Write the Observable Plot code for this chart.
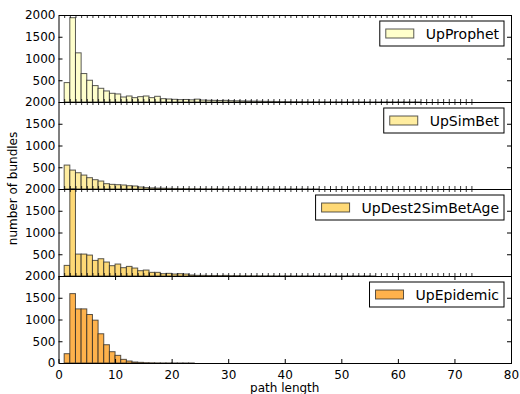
<!DOCTYPE html>
<html><head><meta charset="utf-8">
<script src="https://cdn.jsdelivr.net/npm/d3@7"></script>
<script src="https://cdn.jsdelivr.net/npm/@observablehq/plot@0.6"></script>
<style>
body{margin:0;background:#fff;font-family:"DejaVu Sans",sans-serif}
#chart{width:520px;height:394px}
</style>
</head><body><div id="chart"></div>
<script>
const seriesNames = ["UpProphet", "UpSimBet", "UpDest2SimBetAge", "UpEpidemic"];
const seriesColors = ["#ffffcc", "#ffeda0", "#fed976", "#feb24c"];
const binStart = 1; // left edge of the first unit-width bin
// counts per unit bin [1,2), [2,3), ... [72,73)
const upProphet = [
  446,1938,1130,654,500,377,315,254,200,185,
  115,138,100,123,138,100,131,77,69,62,
  54,58,50,66,45,40,38,35,38,30,
  28,25,22,20,18,15,14,12,10,9,
  8,7,6,5,5,4,4,3,3,2,
  2,2,2,1,1,1,1,1,1,1,
  1,1,1,0,0,0,0,0,0,0,0,0];
const upSimBet = [
  550,435,374,320,260,214,183,122,107,99,
  92,76,69,46,31,25,20,18,15,12,
  10,8,7,6,5,4,4,3,3,2,
  2,2,2,1,1,1,1,1,1,1,
  1,1,1,1,1,0,0,0,0,0,
  0,0,0,0,0,0,0,0,0,0,
  0,0,0,0,0,0,0,0,0,0,0,0];
const upDest2SimBetAge = [
  244,2000,504,504,481,359,397,321,237,275,
  191,221,183,122,137,84,84,53,61,46,
  53,46,23,15,15,12,12,10,14,9,
  8,7,6,5,5,4,4,3,3,3,
  2,2,2,2,1,1,1,1,1,1,
  1,1,1,1,1,0,0,0,0,0,
  0,0,0,0,0,0,0,0,0,0,0,0];
const upEpidemic = [
  214,1595,1244,1244,1115,985,672,420,260,176,
  84,46,23,15,8,5,3,2,2,1,
  1,1,1,0,0,0,0,0,0,0,
  0,0,0,0,0,0,0,0,0,0,
  0,0,0,0,0,0,0,0,0,0,
  0,0,0,0,0,0,0,0,0,0,
  0,0,0,0,0,0,0,0,0,0,0,0];
const xTicks = [0, 10, 20, 30, 40, 50, 60, 70, 80];
const yTicks = [500, 1000, 1500, 2000];
const yInnerTicks = [500, 1000, 1500];
const xLabel = "path length";
const yLabel = "number of bundles";

const allSeries = [upProphet, upSimBet, upDest2SimBetAge, upEpidemic];
const rows = [];
seriesNames.forEach((s, si) => {
  allSeries[si].forEach((v, i) => rows.push({series: s, x1: binStart + i, x2: binStart + i + 1, count: v}));
});
const nEdges = upProphet.length + 1;
const edges = d3.range(binStart, binStart + nEdges);
const minorTicks = seriesNames.slice(0, 3).flatMap(s => edges.map(e => ({series: s, x: e})));
const majorTicks = xTicks.map(x => ({series: seriesNames[3], x}));

const W = 520, H = 394;
const fmt = d => String(d);
const plot = Plot.plot({
  width: W, height: H,
  marginLeft: 58.5, marginRight: 9, marginTop: 13, marginBottom: 30,
  style: {fontFamily: "DejaVu Sans", fontSize: "12px", color: "black", background: "white"},
  x: {domain: [0, 80]},
  y: {domain: [0, 2000]},
  fy: {domain: seriesNames, padding: 0, axis: null},
  color: {domain: seriesNames, range: seriesColors},
  marks: [
    Plot.rectY(rows, {x1: "x1", x2: "x2", y: "count", fy: "series", fill: "series", stroke: "#222", strokeOpacity: 0.75, strokeWidth: 1}),
    // inward minor ticks at bin edges (top and bottom of upper panels)
    Plot.ruleX(minorTicks, {x: "x", y1: 0, y2: 0, fy: "series", insetBottom: 3, stroke: "black", strokeWidth: 0.8}),
    Plot.ruleX(minorTicks, {x: "x", y1: 2000, y2: 2000, fy: "series", insetTop: 3, stroke: "black", strokeWidth: 0.8}),
    // inward major ticks for the bottom panel
    Plot.ruleX(majorTicks, {x: "x", y1: 0, y2: 0, fy: "series", insetBottom: 4, stroke: "black"}),
    Plot.ruleX(majorTicks, {x: "x", y1: 2000, y2: 2000, fy: "series", insetTop: 4, stroke: "black"}),
    // inward y ticks on left and right
    Plot.ruleY(yInnerTicks, {y: d => d, x1: 0, x2: 0, insetLeft: 4, stroke: "black"}),
    Plot.ruleY(yInnerTicks, {y: d => d, x1: 80, x2: 80, insetRight: 4, stroke: "black"}),
    Plot.frame({stroke: "black", strokeWidth: 1}),
    Plot.axisY({ticks: yTicks, tickSize: 0, tickPadding: 3.5, tickFormat: fmt, label: null}),
    Plot.axisY({ticks: [0], tickSize: 0, tickPadding: 3.5, tickFormat: fmt, label: null, facetAnchor: "bottom"}),
    Plot.axisX({ticks: xTicks, tickSize: 0, tickPadding: 7, tickFormat: fmt, label: null})
  ]
});
document.getElementById("chart").appendChild(plot);

// legends and shared axis labels
const svg = d3.select(plot);
const xs = plot.scale("x"), fys = plot.scale("fy");
const left0 = xs.apply(0), right = xs.apply(80);
seriesNames.forEach((s, i) => {
  const top = fys.apply(s) + 6;
  const g = svg.append("g").attr("font-family", "DejaVu Sans").attr("font-size", 14).attr("text-anchor", "start");
  const box = g.append("rect").attr("fill", "white").attr("stroke", "black").attr("stroke-width", 1);
  const sw = g.append("rect").attr("fill", seriesColors[i]).attr("stroke", "#222").attr("stroke-opacity", 0.75);
  const t = g.append("text").text(s).attr("fill", "black").attr("text-anchor", "start");
  const tw = t.node().getComputedTextLength();
  const bw = 6 + 28 + 12 + tw + 5, bh = 25;
  const left = right - 7 - bw;
  box.attr("x", left).attr("y", top).attr("width", bw).attr("height", bh);
  sw.attr("x", left + 6).attr("y", top + bh / 2 - 4.5).attr("width", 28).attr("height", 9);
  t.attr("x", left + 46).attr("y", top + bh / 2 + 5.2);
});
const frameTop = 13, frameBottom = H - 30;
svg.append("text").text(yLabel)
  .attr("transform", `translate(12.5,${(frameTop + frameBottom) / 2}) rotate(-90)`)
  .attr("text-anchor", "middle").attr("dominant-baseline", "central")
  .attr("font-family", "DejaVu Sans").attr("font-size", 12).attr("fill", "black");
svg.append("text").text(xLabel)
  .attr("x", (left0 + right) / 2).attr("y", 388)
  .attr("text-anchor", "middle").attr("dominant-baseline", "central")
  .attr("font-family", "DejaVu Sans").attr("font-size", 12).attr("fill", "black");
</script>
</body></html>
